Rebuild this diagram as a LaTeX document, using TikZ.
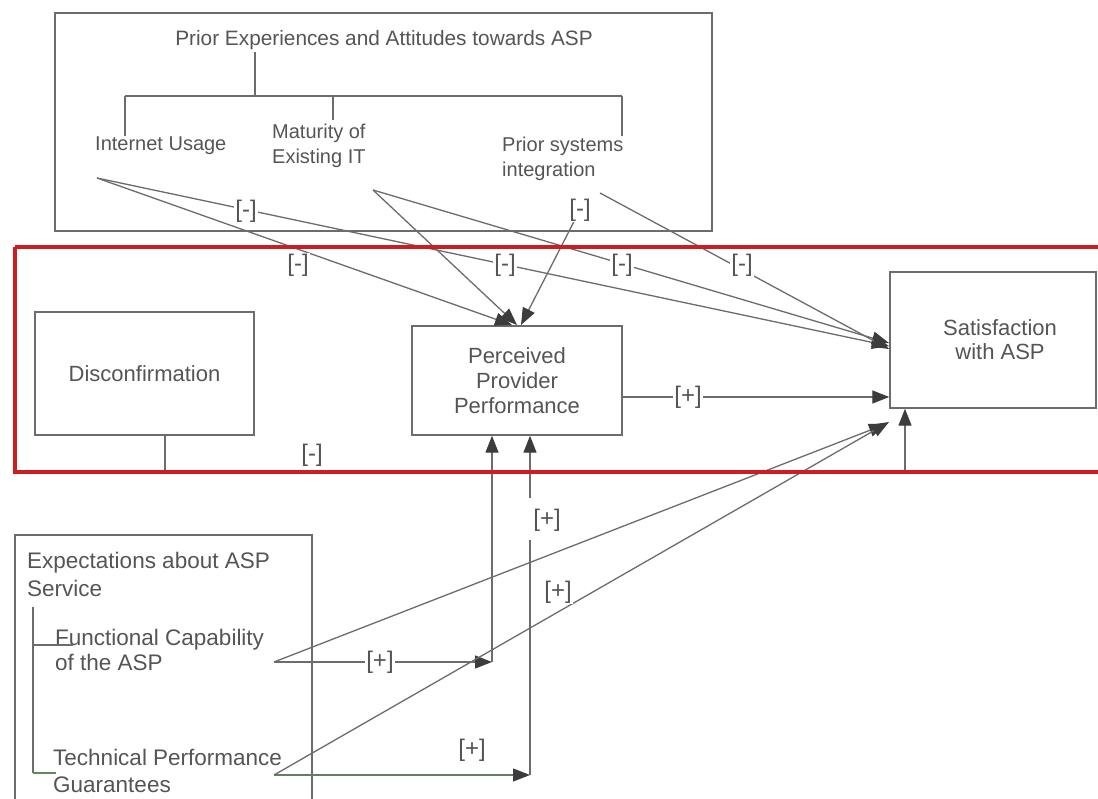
\documentclass[tikz,border=0pt]{standalone}
\usepackage{fontspec}
\setmainfont{Liberation Sans}
\usetikzlibrary{arrows.meta}
\definecolor{txt}{HTML}{555555}
\definecolor{ln}{HTML}{6C6C6C}
\definecolor{tipc}{HTML}{3C3C3C}
\definecolor{redbox}{HTML}{CC1E1E}
\definecolor{grn}{HTML}{5E8A5E}
\begin{document}
\begin{tikzpicture}[x=1pt,y=-1pt,
  every node/.style={text=txt, inner sep=0pt, font=\fontsize{22}{25}\selectfont},
  box/.style={draw=ln, line width=1.4pt},
  conn/.style={draw=ln, line width=1.3pt},
  arr/.style={conn, -{Triangle[length=17pt,width=13pt,color=tipc]}},
  sign/.style={fill=white, inner sep=1pt, font=\fontsize{24}{24}\selectfont},
  item/.style={font=\fontsize{20}{25}\selectfont, align=left, anchor=west},
  low/.style={font=\fontsize{22.5}{25}\selectfont, align=left, anchor=west},
]
\useasboundingbox (0,0) rectangle (1098,799);
\fill[white] (0,0) rectangle (1098,799);

% ---- top box: prior experiences
\node[box, minimum width=657pt, minimum height=218pt] (prior) at (383.5,122) {};
\node[font=\fontsize{20.8}{25}\selectfont] (title) at (384,40) {Prior Experiences and Attitudes towards ASP};
\coordinate (tr0) at (255,52);
\coordinate (tr1) at (255,96);
\coordinate (trL) at (125,96);
\coordinate (trR) at (622,96);
\coordinate (trM) at (333,96);
\coordinate (trLd) at (125,136);
\coordinate (trMd) at (333,120);
\coordinate (trRd) at (622,136);
\draw[conn] (tr0) -- (tr1);
\draw[conn] (trL) -- (trR);
\draw[conn] (trL) -- (trLd);
\draw[conn] (trM) -- (trMd);
\draw[conn] (trR) -- (trRd);
\node[item] (iu) at (95,146) {Internet Usage};
\node[item] (mat) at (272,145.5) {Maturity of\\Existing IT};
\node[item] (psi) at (502,158.5) {Prior systems\\integration};

% ---- main boxes
\node[box, minimum width=219pt, minimum height=123pt] (dis) at (144.5,373.5) {Disconfirmation};
\node[box, minimum width=210pt, minimum height=109pt, align=center] (ppp) at (517,380.5) {Perceived\\Provider\\Performance};
\node[box, minimum width=206pt, minimum height=136pt] (sat) at (993,340) {};
\node[align=center, font=\fontsize{22}{24}\selectfont] (sattxt) at (1000,340) {Satisfaction\\with ASP};

% ---- bottom box: expectations
\node[box, minimum width=297pt, minimum height=280pt] (exp) at (163.5,675) {};
\node[low, font=\fontsize{22.5}{28}\selectfont] (exptitle) at (27,574) {Expectations about ASP\\Service};
\node[low] (fun) at (55,649.5) {Functional Capability\\of the ASP};
\node[low, font=\fontsize{22.5}{27}\selectfont] (tech) at (53,770.5) {Technical Performance\\Guarantees};
\coordinate (et0) at (33,607);
\coordinate (et1) at (33,645);
\coordinate (et2) at (33,773);
\coordinate (etF) at (73,645);
\coordinate (etT) at (56,773);
\draw[conn] (et0) -- (et2);
\draw[conn] (et1) -- (etF);
\draw[conn, draw=grn] (et2) -- (etT);

% ---- connector end points
\coordinate (iuS) at (97,178);
\coordinate (matS) at (373,190);
\coordinate (psiS1) at (585,200);
\coordinate (psiS2) at (600,193);
\coordinate (pppT1) at (512,325);
\coordinate (pppT2) at (517,325);
\coordinate (pppT3) at (521,325);
\coordinate (satA1) at (889,343);
\coordinate (satA2) at (889,346);
\coordinate (satA3) at (889,349);
\coordinate (funS) at (274,662);
\coordinate (techS) at (274,775);
\coordinate (satB1) at (886,424);
\coordinate (satB2) at (889,422);
\coordinate (disD) at (165,473);
\coordinate (disR) at (905,473);
\coordinate (funE) at (492,662);
\coordinate (techE) at (530,775);
\coordinate (techG1) at (530,540);
\coordinate (techG2) at (530,498);

% ---- negative influences (top)
\draw[arr] (iuS) -- (pppT1);
\draw[arr] (matS) -- (pppT2);
\draw[arr] (psiS1) -- (pppT3);
\draw[arr] (iuS) -- (satA2);
\draw[arr] (matS) -- (satA1);
\draw[arr] (psiS2) -- (satA3);

% ---- PPP -> satisfaction
\draw[arr] (ppp.east |- 0,397) -- (sat.west |- 0,397);

% ---- disconfirmation -> satisfaction
\draw[arr] (dis.south -| disD) -- (disD) -- (disR) -- (disR |- sat.south);

% ---- expectations
\draw[arr] (funS) -- (funE);
\draw[arr] (funE) -- (funE |- ppp.south);
\draw[arr] (funS) -- (satB1);
\draw[arr, draw=grn!70!ln] (techS) -- (techE);
\draw[conn] (techE) -- (techG1);
\draw[arr] (techG2) -- (techG2 |- ppp.south);
\draw[arr] (techS) -- (satB2);

% ---- signs
\node[sign] (s1) at (246,211) {[-]};
\node[sign] (s2) at (580,210) {[-]};
\node[sign] (s3) at (298,265) {[-]};
\node[sign] (s4) at (505,265) {[-]};
\node[sign] (s5) at (622,265) {[-]};
\node[sign] (s6) at (742,265) {[-]};
\node[sign] (s7) at (688,397) {[+]};
\node[sign] (s8) at (312,455) {[-]};
\node[sign] (s9) at (547,520) {[+]};
\node[sign] (s10) at (558,592) {[+]};
\node[sign] (s11) at (380,662) {[+]};
\node[sign] (s12) at (472,750) {[+]};

% ---- red highlight frame
\draw[redbox, line width=4.5pt] (15,247) -- (1110,247) (15,247) -- (15,472) -- (1110,472);
\end{tikzpicture}
\end{document}
